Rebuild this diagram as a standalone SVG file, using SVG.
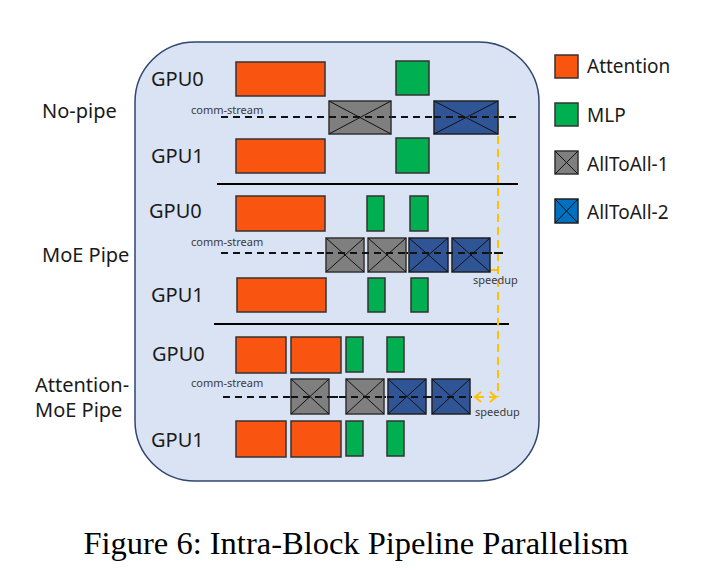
<svg xmlns="http://www.w3.org/2000/svg" width="720" height="577" viewBox="0 0 720 577">
<defs>
<style>
.lbl{font-family:"Noto Sans","DejaVu Sans",sans-serif;font-size:20px;fill:#1a1a1a}
.leg{font-family:"Noto Sans","DejaVu Sans",sans-serif;font-size:19px;fill:#1a1a1a}
.sm{font-family:"Noto Sans","DejaVu Sans",sans-serif;font-size:11px;fill:#3a3a3a}
.cap{font-family:"Liberation Serif","Times New Roman",serif;font-size:32.5px;fill:#000}
.att{fill:#F95511;stroke:#333;stroke-width:1.5}
.mlp{fill:#00B050;stroke:#333;stroke-width:1.5}
.a1{fill:#7F7F7F;stroke:#333;stroke-width:1.5}
.a2{fill:#2F5597;stroke:#222;stroke-width:1.5}
.a2l{fill:#0070C0;stroke:#222;stroke-width:1.5}
.x{stroke:#111;stroke-width:1;fill:none}
.dash{stroke:#111;stroke-width:2;stroke-dasharray:7 5;fill:none}
.sep{stroke:#000;stroke-width:2;fill:none}
.od{stroke:#FFC000;stroke-width:2;stroke-dasharray:8 5;fill:none}
.oa{stroke:#FFC000;stroke-width:2;fill:none}
</style>
</defs>
<rect id="frame" x="135" y="42" width="404" height="439" rx="60" ry="60" fill="#DAE3F3" stroke="#2F4670" stroke-width="1.5"/>

<!-- left labels -->
<text class="lbl" x="42" y="118">No-pipe</text>
<text class="lbl" x="42" y="262">MoE Pipe</text>
<text class="lbl" x="35" y="392">Attention-</text>
<text class="lbl" x="35" y="417">MoE Pipe</text>

<!-- connectors / lines -->
<g id="connectors">
<line class="dash" x1="221" y1="117" x2="517" y2="117"/>
<line class="dash" x1="221" y1="253" x2="503" y2="253"/>
<line class="dash" x1="223" y1="397" x2="472" y2="397"/>
<line class="sep" x1="217" y1="184" x2="518" y2="184"/>
<line class="sep" x1="214" y1="324" x2="509" y2="324"/>
<line class="od" x1="498" y1="110" x2="498" y2="397"/>
<line class="oa" x1="490" y1="270" x2="498" y2="270"/>
<line class="od" x1="476" y1="397" x2="494" y2="397"/>
<polyline class="oa" points="481,392 475,397 481,402"/>
<polyline class="oa" points="490,392 496,397 490,402"/>
</g>

<!-- Row 1: No-pipe -->
<g id="r1">
<text class="lbl" x="151" y="86">GPU0</text>
<text class="lbl" x="151" y="163">GPU1</text>
<text class="sm" x="191" y="114">comm-stream</text>
<g id="r1-att0"><rect class="att" x="236" y="62" width="89" height="34"/></g>
<g id="r1-mlp0"><rect class="mlp" x="396" y="61" width="33" height="34"/></g>
<g id="r1-a1"><rect class="a1" x="329" y="101" width="62" height="33"/><path class="x" d="M329,101L391,134M391,101L329,134"/></g>
<g id="r1-a2"><rect class="a2" x="434" y="101" width="64" height="33"/><path class="x" d="M434,101L498,134M498,101L434,134"/></g>
<g id="r1-att1"><rect class="att" x="236" y="139" width="89" height="34"/></g>
<g id="r1-mlp1"><rect class="mlp" x="396" y="138" width="33" height="35"/></g>
</g>
<line class="dash" x1="329" y1="117" x2="391" y2="117"/>
<line class="dash" x1="434" y1="117" x2="498" y2="117"/>

<!-- Row 2: MoE Pipe -->
<g id="r2">
<text class="lbl" x="149" y="218">GPU0</text>
<text class="lbl" x="151" y="302">GPU1</text>
<text class="sm" x="191" y="246">comm-stream</text>
<text class="sm" x="473" y="284">speedup</text>
<g id="r2-att0"><rect class="att" x="236" y="196" width="89" height="35"/></g>
<g id="r2-mlp0a"><rect class="mlp" x="367" y="196" width="17" height="35"/></g>
<g id="r2-mlp0b"><rect class="mlp" x="410" y="196" width="18" height="35"/></g>
<g id="r2-a1a"><rect class="a1" x="326" y="238" width="38" height="34"/><path class="x" d="M326,238L364,272M364,238L326,272"/></g>
<g id="r2-a1b"><rect class="a1" x="368" y="238" width="38" height="34"/><path class="x" d="M368,238L406,272M406,238L368,272"/></g>
<g id="r2-a2a"><rect class="a2" x="409" y="238" width="39" height="34"/><path class="x" d="M409,238L448,272M448,238L409,272"/></g>
<g id="r2-a2b"><rect class="a2" x="452" y="238" width="38" height="34"/><path class="x" d="M452,238L490,272M490,238L452,272"/></g>
<g id="r2-att1"><rect class="att" x="237" y="278" width="89" height="34"/></g>
<g id="r2-mlp1a"><rect class="mlp" x="368" y="278" width="17" height="34"/></g>
<g id="r2-mlp1b"><rect class="mlp" x="411" y="278" width="17" height="34"/></g>
</g>
<line class="dash" x1="326" y1="253" x2="503" y2="253"/>

<!-- Row 3: Attention-MoE Pipe -->
<g id="r3">
<text class="lbl" x="152" y="361">GPU0</text>
<text class="lbl" x="151" y="447">GPU1</text>
<text class="sm" x="191" y="387">comm-stream</text>
<text class="sm" x="475" y="416">speedup</text>
<g id="r3-att0a"><rect class="att" x="236" y="337" width="50" height="36"/></g>
<g id="r3-att0b"><rect class="att" x="291" y="337" width="50" height="36"/></g>
<g id="r3-mlp0a"><rect class="mlp" x="346" y="337" width="17" height="35"/></g>
<g id="r3-mlp0b"><rect class="mlp" x="387" y="337" width="17" height="35"/></g>
<g id="r3-a1a"><rect class="a1" x="291" y="379" width="38" height="35"/><path class="x" d="M291,379L329,414M329,379L291,414"/></g>
<g id="r3-a1b"><rect class="a1" x="346" y="379" width="38" height="35"/><path class="x" d="M346,379L384,414M384,379L346,414"/></g>
<g id="r3-a2a"><rect class="a2" x="388" y="379" width="38" height="35"/><path class="x" d="M388,379L426,414M426,379L388,414"/></g>
<g id="r3-a2b"><rect class="a2" x="432" y="379" width="38" height="35"/><path class="x" d="M432,379L470,414M470,379L432,414"/></g>
<g id="r3-att1a"><rect class="att" x="236" y="421" width="50" height="36"/></g>
<g id="r3-att1b"><rect class="att" x="291" y="421" width="50" height="36"/></g>
<g id="r3-mlp1a"><rect class="mlp" x="346" y="421" width="17" height="35"/></g>
<g id="r3-mlp1b"><rect class="mlp" x="387" y="421" width="17" height="35"/></g>
</g>
<line class="dash" x1="291" y1="397" x2="472" y2="397"/>

<!-- Legend -->
<g id="legend">
<g id="leg-att"><rect class="att" x="555" y="55" width="23" height="23"/><text class="leg" x="587" y="73">Attention</text></g>
<g id="leg-mlp"><rect class="mlp" x="555" y="103" width="23" height="23"/><text class="leg" x="587" y="122">MLP</text></g>
<g id="leg-a1"><rect class="a1" x="555" y="151" width="23" height="23"/><path class="x" d="M555,151L578,174M578,151L555,174"/><text class="leg" x="587" y="171">AllToAll-1</text></g>
<g id="leg-a2"><rect class="a2l" x="555" y="199" width="23" height="24"/><path class="x" d="M555,199L578,223M578,199L555,223"/><text class="leg" x="587" y="219">AllToAll-2</text></g>
</g>

<text class="cap" x="356" y="554" text-anchor="middle">Figure 6: Intra-Block Pipeline Parallelism</text>
</svg>
